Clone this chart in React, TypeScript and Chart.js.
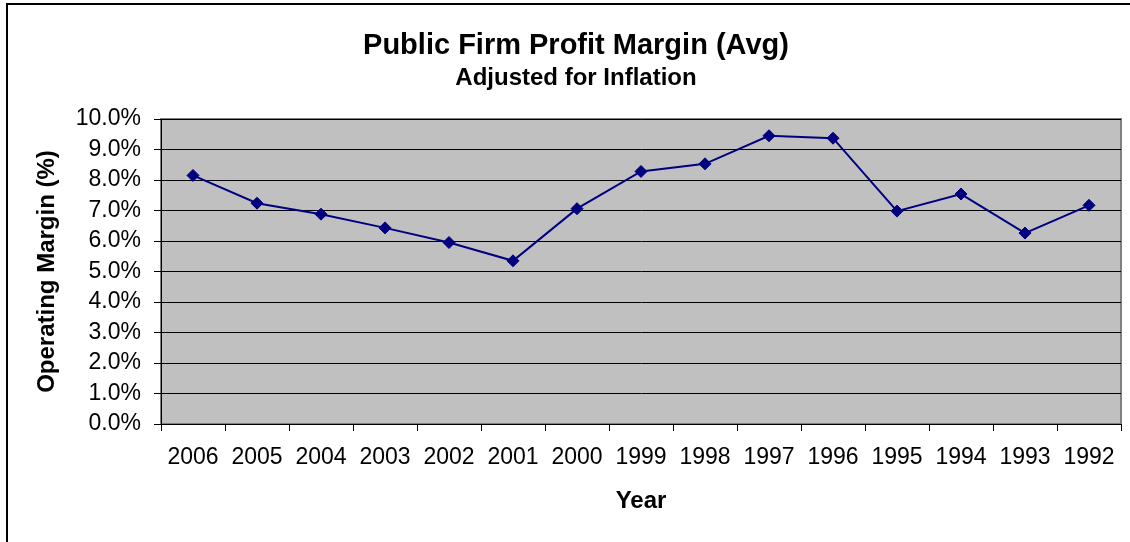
import React, { useEffect, useRef } from "react";
import { Chart, registerables } from "chart.js";

Chart.register(...registerables);

const years = ["2006", "2005", "2004", "2003", "2002", "2001", "2000", "1999", "1998", "1997", "1996", "1995", "1994", "1993", "1992"];
const margins = [8.15, 7.24, 6.88, 6.43, 5.95, 5.35, 7.06, 8.28, 8.53, 9.45, 9.37, 6.98, 7.54, 6.26, 7.17];
const titleText = "Public Firm Profit Margin (Avg)";
const subtitleText = "Adjusted for Inflation";
const yTitle = "Operating Margin (%)";
const xTitle = "Year";

const FONT = "Arial, 'Liberation Sans', Helvetica, sans-serif";

const framePlugin = {
  id: "frameAndPlot",
  beforeDraw(chart: any) {
    const { ctx, chartArea } = chart;
    ctx.save();
    ctx.fillStyle = "#ffffff";
    ctx.fillRect(0, 0, chart.width, chart.height);
    ctx.strokeStyle = "#000000";
    ctx.lineWidth = 2;
    ctx.strokeRect(7, 4, 1138, 600);
    ctx.fillStyle = "#C0C0C0";
    ctx.fillRect(chartArea.left, chartArea.top, chartArea.right - chartArea.left, chartArea.bottom - chartArea.top);
    ctx.strokeStyle = "#808080";
    ctx.lineWidth = 2;
    ctx.strokeRect(chartArea.left, chartArea.top, chartArea.right - chartArea.left, chartArea.bottom - chartArea.top);
    ctx.restore();
  },
};

export default function App() {
  const ref = useRef<HTMLCanvasElement | null>(null);
  useEffect(() => {
    if (!ref.current) return;
    const chart = new Chart(ref.current, {
      type: "line",
      data: {
        labels: years,
        datasets: [
          {
            data: margins,
            borderColor: "#000080",
            backgroundColor: "#000080",
            borderWidth: 2,
            pointStyle: "rectRot",
            pointRadius: 6,
            pointBorderWidth: 1,
            pointBackgroundColor: "#000080",
            pointBorderColor: "#000080",
            tension: 0,
          },
        ],
      },
      options: {
        responsive: false,
        animation: false,
        layout: { padding: { left: 31, right: 31, top: 0, bottom: 44.6 } },
        plugins: {
          legend: { display: false },
          tooltip: { enabled: false },
          title: {
            display: true,
            text: titleText,
            color: "#000",
            font: { family: FONT, size: 29, weight: "bold" },
            padding: { top: 29, bottom: 0 },
          },
          subtitle: {
            display: true,
            text: subtitleText,
            color: "#000",
            font: { family: FONT, size: 24, weight: "bold" },
            padding: { top: 0, bottom: 26.4 },
          },
        },
        scales: {
          x: {
            type: "category",
            offset: true,
            grid: {
              display: true,
              offset: true,
              drawOnChartArea: false,
              drawTicks: true,
              tickLength: 7,
              color: "#000",
            },
            border: { display: true, color: "#000", width: 1 },
            ticks: {
              color: "#000",
              font: { family: FONT, size: 23 },
              padding: 13,
              maxRotation: 0,
              autoSkip: false,
            },
            title: {
              display: true,
              text: xTitle,
              color: "#000",
              font: { family: FONT, size: 24, weight: "bold" },
              padding: { top: 2, bottom: 0 },
            },
          },
          y: {
            min: 0,
            max: 10,
            afterFit(axis: any) {
              axis.width = 130;
            },
            grid: {
              color: "#000",
              lineWidth: 1,
              drawTicks: true,
              tickLength: 7,
            },
            border: { display: true, color: "#000", width: 1 },
            ticks: {
              stepSize: 1,
              autoSkip: false,
              color: "#000",
              font: { family: FONT, size: 23 },
              padding: 13,
              callback: (v: any) => Number(v).toFixed(1) + "%",
            },
            title: {
              display: true,
              text: yTitle,
              color: "#000",
              font: { family: FONT, size: 24, weight: "bold" },
              padding: { top: 2, bottom: 0 },
            },
          },
        },
      },
      plugins: [framePlugin],
    });
    return () => chart.destroy();
  }, []);

  return (
    <div style={{ position: "absolute", left: 0, top: 0, width: 1130, height: 542, overflow: "hidden", background: "#fff" }}>
      <canvas ref={ref} width={1152} height={560} style={{ display: "block", width: 1152, height: 560 }} />
    </div>
  );
}
